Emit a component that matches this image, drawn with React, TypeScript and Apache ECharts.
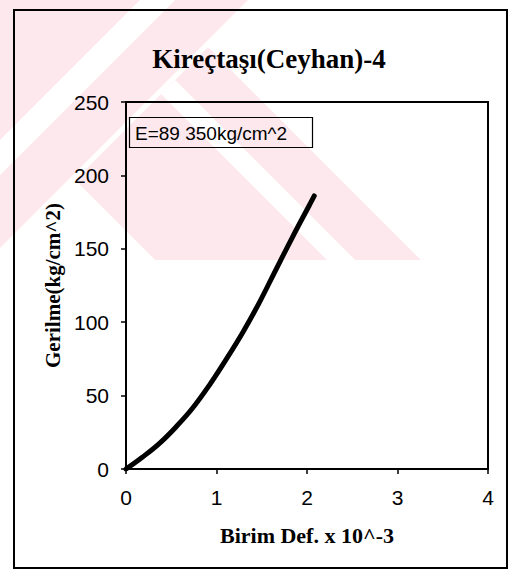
import React, { useEffect, useRef } from "react";
import * as echarts from "echarts";

const title = "Kireçtaşı(Ceyhan)-4";
const xName = "Birim Def. x 10^-3";
const yName = "Gerilme(kg/cm^2)";
const note = "E=89 350kg/cm^2";

// strain (x10^-3) and stress (kg/cm^2)
const strain = [0, 0.18, 0.37, 0.55, 0.73, 0.92, 1.1, 1.29, 1.47, 1.65, 1.84, 2.02, 2.08];
const stress = [0, 8, 17.5, 28.5, 41, 57, 74, 93, 113, 135, 158, 179, 186];

const xTicks = { min: 0, max: 4, interval: 1 };
const yTicks = { min: 0, max: 250, interval: 50 };

const PINK = "#fde8ed";

export default function App() {
  const ref = useRef<HTMLDivElement>(null);
  useEffect(() => {
    if (!ref.current) return;
    const chart = echarts.init(ref.current, undefined, { renderer: "svg" });
    const data = strain.map((x, i) => [x, stress[i]]);
    const wm = (points: number[][], fill: string) => ({
      type: "polygon",
      z: -10,
      silent: true,
      shape: { points },
      style: { fill },
    });
    chart.setOption({
      animation: false,
      backgroundColor: "#ffffff",
      title: {
        text: title,
        left: 264,
        top: 40,
        textAlign: "center",
        textStyle: {
          fontFamily: "Liberation Serif",
          fontWeight: "bold",
          fontSize: 27,
          color: "#000",
        },
      },
      grid: {
        left: 126,
        top: 102,
        width: 362,
        height: 367,
        show: true,
        borderColor: "#000",
        borderWidth: 2,
        backgroundColor: "transparent",
      },
      xAxis: {
        type: "value",
        min: xTicks.min,
        max: xTicks.max,
        interval: xTicks.interval,
        name: xName,
        nameLocation: "middle",
        nameGap: 55,
        nameTextStyle: {
          fontFamily: "Liberation Serif",
          fontWeight: "bold",
          fontSize: 22,
          color: "#000",
        },
        splitLine: { show: false },
        axisLine: { show: true, lineStyle: { color: "#000", width: 2 } },
        axisTick: { show: true, length: 5, lineStyle: { color: "#000", width: 1.5 } },
        axisLabel: {
          margin: 18,
          fontFamily: "Liberation Sans",
          fontSize: 21,
          color: "#000",
        },
      },
      yAxis: {
        type: "value",
        min: yTicks.min,
        max: yTicks.max,
        interval: yTicks.interval,
        name: yName,
        nameLocation: "middle",
        nameGap: 62,
        nameRotate: 90,
        nameTextStyle: {
          fontFamily: "Liberation Serif",
          fontWeight: "bold",
          fontSize: 21,
          color: "#000",
        },
        splitLine: { show: false },
        axisLine: { show: true, lineStyle: { color: "#000", width: 2 } },
        axisTick: { show: true, length: 5, lineStyle: { color: "#000", width: 1.5 } },
        axisLabel: {
          margin: 17,
          fontFamily: "Liberation Sans",
          fontSize: 21,
          color: "#000",
        },
      },
      series: [
        {
          type: "line",
          data,
          smooth: 0.4,
          showSymbol: false,
          symbol: "none",
          lineStyle: { color: "#000", width: 5, cap: "round" },
          z: 5,
        },
      ],
      graphic: [
        // faint watermark
        wm([[0, 0], [248, 0], [0, 248]], PINK),
        wm([[140, 0], [175, 0], [0, 175], [0, 140]], "#ffffff"),
        wm([[75, 180], [208, 47], [421, 260], [155, 260]], PINK),
        wm([[161, 94], [175, 80], [355, 260], [327, 260]], "#ffffff"),
        // outer frame
        {
          type: "rect",
          z: 1,
          silent: true,
          shape: { x: 14, y: 10, width: 493, height: 558 },
          style: { fill: "none", stroke: "#000", lineWidth: 2 },
        },
        // note box
        {
          type: "group",
          z: 10,
          children: [
            {
              type: "rect",
              shape: { x: 129.5, y: 117.5, width: 183, height: 30 },
              style: { fill: "none", stroke: "#000", lineWidth: 1.2 },
            },
            {
              type: "text",
              x: 135,
              y: 133,
              style: {
                text: note,
                fontFamily: "Liberation Sans",
                fontSize: 19,
                fill: "#000",
                verticalAlign: "middle",
                align: "left",
              },
            },
          ],
        },
      ],
    });
    return () => chart.dispose();
  }, []);
  return (
    <div
      ref={ref}
      style={{ position: "absolute", left: 0, top: 0, width: 510, height: 571 }}
    />
  );
}
